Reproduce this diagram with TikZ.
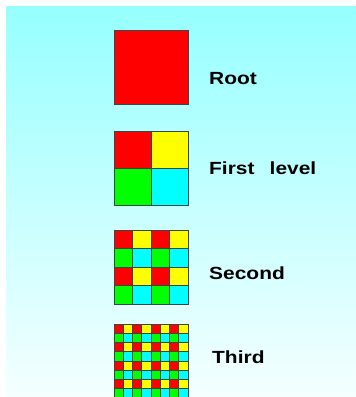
\documentclass[tikz,border=0pt]{standalone}
\usepackage{fontspec}
\usepackage{graphicx}
\setmainfont{Liberation Sans}
\definecolor{bgtop}{RGB}{150,255,255}
\definecolor{bgbot}{RGB}{245,255,255}
\definecolor{qc0}{RGB}{255,0,0}
\definecolor{qc1}{RGB}{255,255,0}
\definecolor{qc2}{RGB}{0,255,0}
\definecolor{qc3}{RGB}{0,255,255}
\definecolor{gridline}{RGB}{60,70,70}
\tikzset{
  lbl/.style={anchor=base west, inner sep=0pt, font=\fontsize{17.6}{20}\selectfont\bfseries},
  cell/.style={draw=gridline, line width=0.8pt}
}
\newcommand\wide[1]{\scalebox{1.19}[1]{#1}}
\begin{document}
\begin{tikzpicture}[x=1pt,y=-1pt]
\useasboundingbox (0,0) rectangle (356,397);
\fill[white] (0,0) rectangle (356,397);
\shade[top color=bgtop, bottom color=bgbot] (6,6) rectangle (356,397);
\foreach \yy/\n in {30/1,131/2,230/4,324/8}{
  \pgfmathsetmacro\s{74/\n}
  \pgfmathtruncatemacro\m{\n-1}
  \foreach \r in {0,...,\m}{
    \foreach \c in {0,...,\m}{
      \pgfmathtruncatemacro\k{mod(\r,2)*2+mod(\c,2)}
      \filldraw[cell, fill=qc\k] ({114+\c*\s},{\yy+\r*\s}) rectangle ++(\s,\s);
    }
  }
}
\node[lbl] (root) at (209,84) {\wide{Root}};
\node[lbl] (first) at (209,174) {\wide{First~~\,level}};
\node[lbl] (second) at (209,279) {\wide{Second}};
\node[lbl] (third) at (212,363) {\wide{Third}};
\end{tikzpicture}
\end{document}
